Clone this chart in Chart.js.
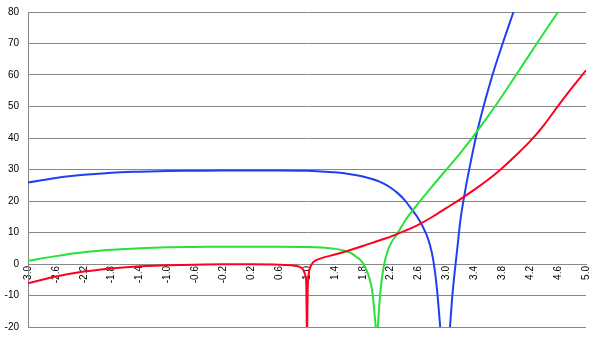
<!DOCTYPE html>
<html>
<head>
<meta charset="utf-8">
<script src="https://cdn.jsdelivr.net/npm/chart.js@4.4.1/dist/chart.umd.min.js"></script>
<style>
html, body { margin: 0; padding: 0; background: #fff; }
#wrap { width: 600px; height: 340px; }
</style>
</head>
<body>
<div id="wrap"><canvas id="chart"></canvas></div>
<script>
// values (null = break at the pole)
const redX = [-3.0, -2.6, -2.2, -1.8, -1.4, -1.0, -0.6, -0.2, 0.2, 0.6, 0.8, 0.9, 0.95, 0.98, 0.99, 0.997, 1.0,
  1.003, 1.01, 1.02, 1.04, 1.07, 1.1, 1.2, 1.4, 1.6, 1.8, 2.0, 2.2, 2.4, 2.6, 2.8, 3.0, 3.2, 3.4, 3.6, 3.8, 4.0, 4.2, 4.4, 4.6, 4.8, 5.0];
const redY = [-6.1, -4.0, -2.4, -1.4, -0.7, -0.4, -0.2, -0.1, -0.1, -0.2, -0.5, -1.0, -2.0, -4.0, -6.5, -20, null,
  -20, -8, -4, -1.5, 0, 0.8, 1.8, 3.0, 4.3, 5.7, 7.2, 8.7, 10.5, 12.5, 15.0, 17.8, 20.6, 23.6, 26.8, 30.5, 34.6, 39.0, 44.2, 50.2, 56.0, 61.5];

const greenX = [-3.0, -2.6, -2.2, -1.8, -1.4, -1.0, -0.6, -0.2, 0.2, 0.6, 1.0, 1.2, 1.4, 1.5, 1.6, 1.7, 1.8, 1.88, 1.94, 1.985, 2.0,
  2.015, 2.05, 2.1, 2.17, 2.3, 2.4, 2.5, 2.6, 2.8, 3.0, 3.2, 3.4, 3.6, 3.8, 4.0, 4.2, 4.4, 4.6];
const greenY = [1.0, 2.5, 3.7, 4.5, 5.0, 5.3, 5.4, 5.5, 5.5, 5.5, 5.4, 5.2, 4.8, 4.4, 3.8, 2.4, 0.4, -3.5, -9.3, -20, null,
  -20, -9.3, -0.8, 5.0, 9.8, 13.5, 16.6, 19.4, 24.8, 30.0, 35.3, 41.0, 47.0, 53.4, 60.1, 66.8, 73.5, 80];

const blueX = [-3.0, -2.6, -2.2, -1.8, -1.4, -1.0, -0.6, -0.2, 0.2, 0.6, 1.0, 1.2, 1.4, 1.6, 1.8, 2.0, 2.1, 2.2, 2.3, 2.4, 2.5, 2.6, 2.7, 2.76, 2.81, 2.86, 2.91, 2.98,
  3.05, 3.08, 3.12, 3.16, 3.2, 3.25, 3.33, 3.45, 3.64, 3.81, 3.96];
const blueY = [25.9, 27.3, 28.3, 29.0, 29.3, 29.5, 29.6, 29.7, 29.7, 29.7, 29.6, 29.4, 29.1, 28.6, 27.8, 26.5, 25.5, 24.2, 22.5, 20.3, 17.4, 14.3, 10.0, 6.3, 1.3, -7.2, -20, null,
  -20, -11, -2, 6, 14, 21, 30.5, 43, 58.6, 70.3, 80];

const xMin = -3, xMax = 5, xStep = 0.4;
const yMin = -20, yMax = 80, yStep = 10;

const toPoints = (xs, ys) => xs.map((x, i) => ({ x, y: ys[i] }));

const series = (data, color) => ({
  data,
  borderColor: color,
  backgroundColor: color,
  borderWidth: 2,
  pointRadius: 0,
  fill: false,
  spanGaps: false,
  cubicInterpolationMode: 'monotone'
});

new Chart(document.getElementById('chart'), {
  type: 'line',
  data: {
    datasets: [
      series(toPoints(redX, redY), '#ff0020'),
      series(toPoints(greenX, greenY), '#26e23a'),
      series(toPoints(blueX, blueY), '#2040f0')
    ]
  },
  options: {
    responsive: true,
    maintainAspectRatio: false,
    animation: false,
    events: [],
    layout: { padding: { left: 0, right: 14, top: 12, bottom: 13 } },
    plugins: { legend: { display: false }, tooltip: { enabled: false } },
    scales: {
      x: {
        type: 'linear',
        position: { y: 0 },
        min: xMin,
        max: xMax,
        grid: { display: false, drawTicks: false },
        border: { color: '#888888' },
        ticks: {
          stepSize: xStep,
          autoSkip: false,
          minRotation: 90,
          maxRotation: 90,
          padding: 2,
          color: '#000',
          font: { family: 'Liberation Sans, Arial, sans-serif', size: 10 },
          callback: (v) => Number(v).toFixed(1)
        }
      },
      y: {
        min: yMin,
        max: yMax,
        afterFit: (scale) => {
          // fixed axis width; don't let the label padding push the plot in
          scale.width = 28;
          scale.paddingTop = 6;
          scale.paddingBottom = 6;
        },
        grid: { color: '#888888', drawTicks: false },
        border: { color: '#888888' },
        ticks: {
          stepSize: yStep,
          padding: 9,
          color: '#000',
          font: { family: 'Liberation Sans, Arial, sans-serif', size: 10 }
        }
      }
    }
  }
});
</script>
</body>
</html>
